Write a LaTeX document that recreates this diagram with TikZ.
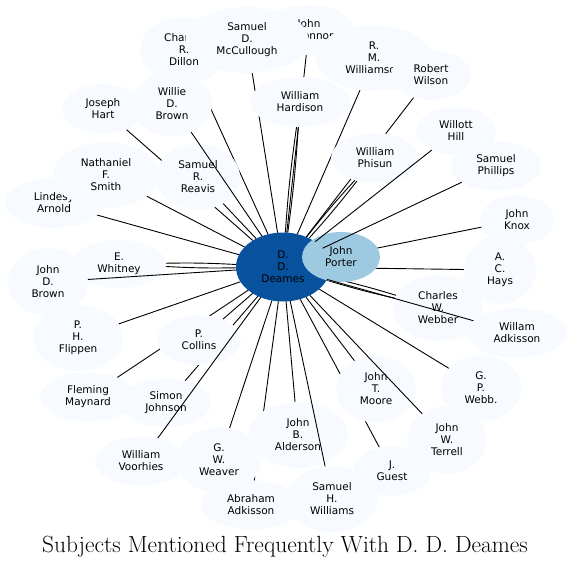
\documentclass[tikz,border=0pt]{standalone}
\usepackage{fontspec}
\usepackage{tikz}
\usetikzlibrary{shapes.geometric}
\newfontfamily\dejavu{DejaVu Sans}
\definecolor{paleblue}{HTML}{F7FBFF}
\definecolor{porterblue}{HTML}{9ECAE1}
\definecolor{hubblue}{HTML}{08519C}
\pgfdeclarelayer{background}
\pgfdeclarelayer{foreground}
\pgfsetlayers{background,main,foreground}
\tikzset{
    ell/.style={ellipse,fill=paleblue,inner sep=0pt,outer sep=0pt,minimum height=66pt,align=center,font=\dejavu\fontsize{10.5}{12}\selectfont},
    ellthin/.style={ell,minimum height=50pt},
    hub/.style={ell,fill=hubblue,minimum width=94pt,minimum height=69pt},
    line/.style={-,line width=0.9pt},
}
\begin{document}
\begin{tikzpicture}[x=1pt,y=-1pt]
    \useasboundingbox (0,0) rectangle (572,569);
    \node[ell,minimum width=88pt] (dillon) at (184,50) {Charles\\R.\\Dillon};
    \node[ellthin,minimum width=90pt] (oconnor) at (309,30) {John\\O'Connor};
    \node[ellthin,minimum width=82pt] (hart) at (103,109) {Joseph\\Hart};
    \node[ellthin,minimum width=98pt] (lindesy) at (54,203) {Lindesy\\Arnold};
    \node[ell,minimum width=123pt] (mccullough) at (247,40) {Samuel\\D.\\McCullough};
    \node[ell,minimum width=116pt] (williamson) at (374,58) {R.\\M.\\Williamson};
    \node[ellthin,minimum width=80pt] (wilson) at (431,75) {Robert\\Wilson};
    \node[ellthin,minimum width=100pt] (hardison) at (300,102) {William\\Hardison};
    \node[ell,minimum width=80pt,minimum height=64pt] (williebrown) at (172,104) {Willie\\D.\\Brown};
    \node[ellthin,minimum width=80pt,minimum height=48pt] (willott) at (456,131) {Willott\\Hill};
    \node[ellthin,minimum width=88pt] (phisun) at (375,158) {William\\Phisun};
    \node[ellthin,minimum width=90pt] (phillips) at (496,166) {Samuel\\Phillips};
    \node[ell,minimum width=106pt] (nathaniel) at (106,175) {Nathaniel\\F.\\Smith};
    \node[ell,minimum width=84pt] (reavis) at (198,177) {Samuel\\R.\\Reavis};
    \node[ellthin,minimum width=74pt] (knox) at (517,220) {John\\Knox};
    \node[ellthin,minimum width=94pt,minimum height=48pt] (whitney) at (119,264) {E.\\Whitney};
    \node[ell,minimum width=80pt,minimum height=68pt] (johndbrown) at (48,282) {John\\D.\\Brown};
    \node[ell,minimum width=72pt,minimum height=68pt] (hays) at (500,270) {A.\\C.\\Hays};
    \node[hub] (deames) at (283,267) {D.\\D.\\Deames};
    \node[ellthin,fill=porterblue,minimum width=78pt] (porter) at (341,257) {John\\Porter};
    \node[ell,minimum width=90pt] (webber) at (438,308) {Charles\\W.\\Webber};
    \node[ellthin,minimum width=100pt] (willamadk) at (517,333) {Willam\\Adkisson};
    \node[ell,minimum width=90pt] (flippen) at (78,338) {P.\\H.\\Flippen};
    \node[ellthin,minimum width=84pt] (collins) at (199,340) {P.\\Collins};
    \node[ellthin,minimum width=96pt,minimum height=49pt] (maynard) at (88,397) {Fleming\\Maynard};
    \node[ellthin,minimum width=90pt,minimum height=49pt] (simonj) at (166,403) {Simon\\Johnson};
    \node[ell,minimum width=80pt,minimum height=67pt] (moore) at (376,389) {John\\T.\\Moore};
    \node[ell,minimum width=80pt] (webb) at (481,388) {G.\\P.\\Webb.};
    \node[ell,minimum width=100pt] (alderson) at (298,435) {John\\B.\\Alderson};
    \node[ellthin,minimum width=92pt,minimum height=49pt] (voorhies) at (141,461) {William\\Voorhies};
    \node[ell,minimum width=84pt] (weaver) at (219,460) {G.\\W.\\Weaver};
    \node[ell,minimum width=78pt,minimum height=68pt] (terrell) at (447,440) {John\\W.\\Terrell};
    \node[ellthin,minimum width=78pt] (guest) at (392,471) {J.\\Guest};
    \node[ellthin,minimum width=100pt,minimum height=49pt] (abraham) at (251,505) {Abraham\\Adkisson};
    \node[ell,minimum width=92pt] (shwilliams) at (332,499) {Samuel\\H.\\Williams};
    \node (title) at (285,547) {\fontsize{23.4}{28}\selectfont Subjects Mentioned Frequently With D. D. Deames};
    \begin{pgfonlayer}{background}
        \draw[line] (deames) -- (dillon);
        \draw[line] (deames) -- (mccullough);
        \draw[line] (deames) -- (oconnor);
        \draw[line] (deames) to[bend left=2] (hardison);
        \draw[line] (deames) to[bend right=2] (hardison);
        \draw[line] (deames) -- (williamson);
        \draw[line] (deames) -- (wilson);
        \draw[line] (deames) to[bend left=2] (phisun);
        \draw[line] (deames) to[bend right=2] (phisun);
        \draw[line] (deames) -- (hart);
        \draw[line] (deames) -- (nathaniel);
        \draw[line] (deames) -- (reavis);
        \draw[line] (deames) -- (lindesy);
        \draw[line] (deames) to[bend left=2] (whitney);
        \draw[line] (deames) to[bend right=2] (whitney);
        \draw[line] (deames) -- (flippen);
        \draw[line] (deames) -- (collins);
        \draw[line] (deames) -- (maynard);
        \draw[line] (deames) -- (simonj);
        \draw[line] (deames) -- (weaver);
        \draw[line] (deames) -- (abraham);
        \draw[line] (deames) -- (alderson);
        \draw[line] (deames) -- (guest);
        \draw[line] (deames) -- (moore);
        \draw[line] (deames) -- (webb);
        \draw[line] (deames) to[bend left=2] (webber);
        \draw[line] (deames) to[bend right=2] (webber);
        \draw[line] (deames) -- (knox);
        \draw[line] (deames) -- (hays);
        \draw[line] (deames) -- (porter);
    \end{pgfonlayer}
    \begin{pgfonlayer}{foreground}
        \draw[line] (deames) -- (williebrown);
        \draw[line] (deames) -- (voorhies);
        \draw[line] (deames) -- (johndbrown);
        \draw[line] (deames) -- (shwilliams);
        \draw[line] (deames) -- (terrell);
        \draw[line] (deames) -- (willamadk);
        \draw[line] (deames) -- (willott);
        \draw[line] (deames) -- (phillips);
    \end{pgfonlayer}
\end{tikzpicture}
\end{document}
